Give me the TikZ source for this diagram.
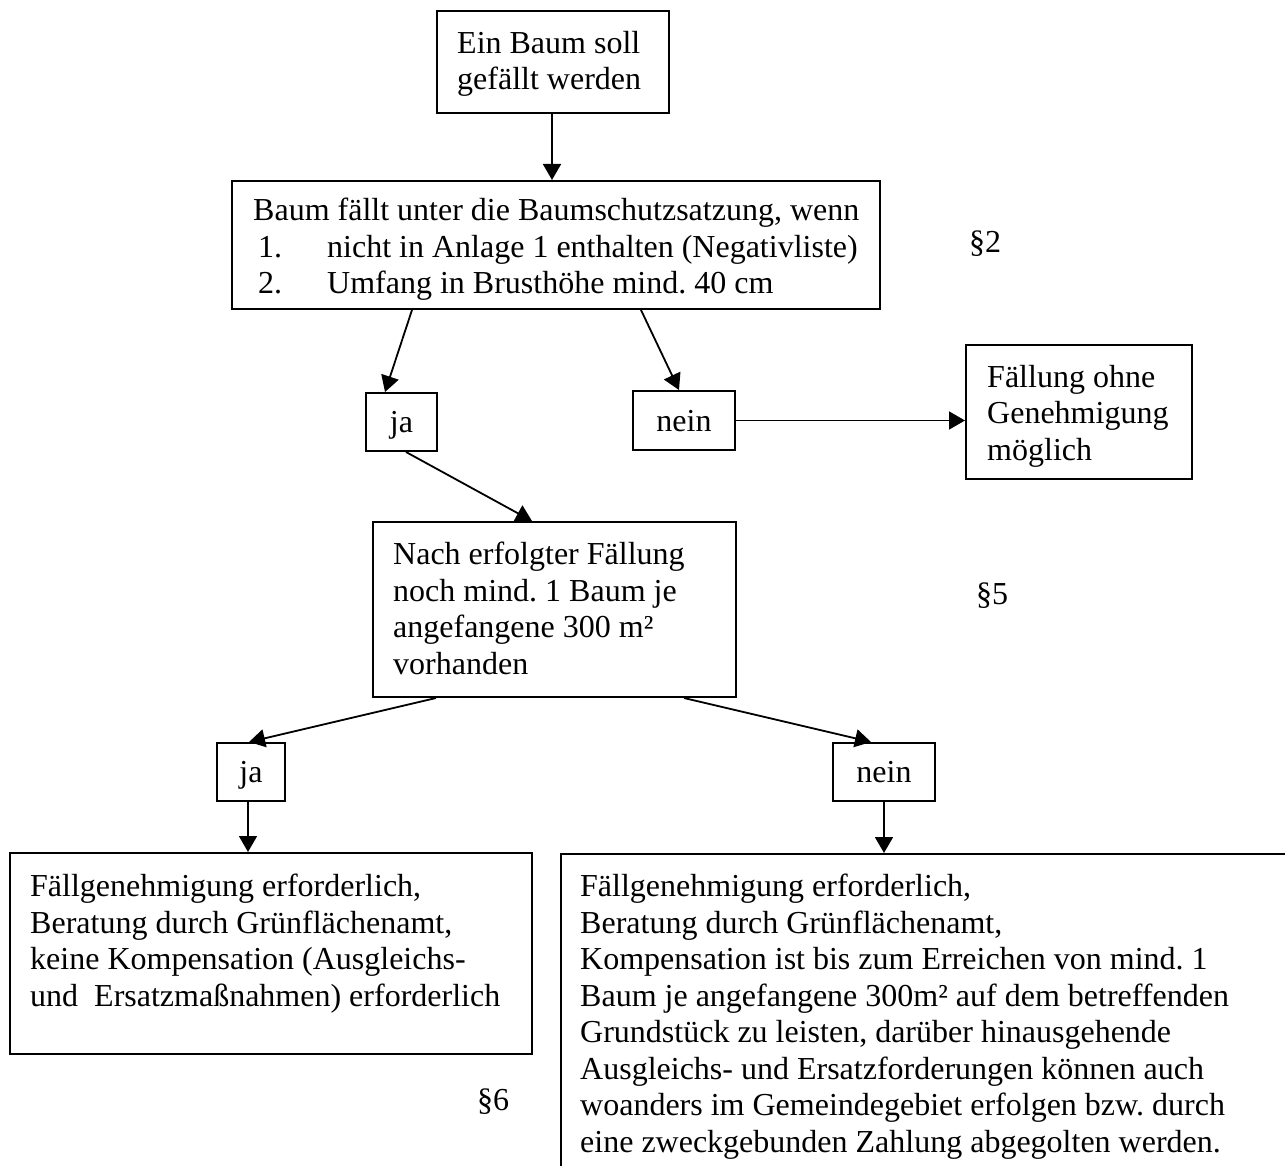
\documentclass[tikz,border=0pt]{standalone}
\usepackage{fontspec}
\setmainfont{Liberation Serif}
\usetikzlibrary{arrows.meta}
\frenchspacing
\tikzset{
  box/.style={draw, line width=2pt, inner sep=0pt, minimum width=#1},
  box/.default=10pt,
  txt/.style={font=\fontsize{32}{36.5}\selectfont, align=left, inner sep=0pt, anchor=north west},
  lbl/.style={font=\fontsize{32}{36.5}\selectfont, inner sep=0pt, text height=26pt, text depth=5pt},
  arr/.style={line width=1.8pt, -{Triangle[length=16pt,width=18pt]}}
}
\begin{document}
\begin{tikzpicture}[x=1pt,y=-1pt]
\useasboundingbox (0,0) rectangle (1285,1166);
\begin{scope}
\clip (0,0) rectangle (1285,1166);
% boxes
\node[box=232pt, minimum height=102pt] (b1) at (553,62) {};
\node[box=648pt, minimum height=128pt] (b2) at (556,245) {};
\node[box=71pt, minimum height=58pt] (ja1) at (401.5,422) {};
\node[box=102pt, minimum height=59pt] (nein1) at (684,420.5) {};
\node[box=226pt, minimum height=134pt] (f) at (1079,412) {};
\node[box=363pt, minimum height=175pt] (b3) at (554.5,609.5) {};
\node[box=68pt, minimum height=58pt] (ja2) at (251,772) {};
\node[box=102pt, minimum height=58pt] (nein2) at (884,772) {};
\node[box=522pt, minimum height=201pt] (lb) at (271,953.5) {};
\node[box=760pt, minimum height=360pt, anchor=north west] (rb) at (560,853) {};
% texts
\node[txt] (t1) at (457,31) {Ein Baum soll\\gefällt werden};
\node[txt] (t2) at (253,198) {Baum fällt unter die Baumschutzsatzung, wenn\\
\hspace*{5pt}\makebox[69pt][l]{1.}nicht in Anlage 1 enthalten (Negativliste)\\
\hspace*{5pt}\makebox[69pt][l]{2.}Umfang in Brusthöhe mind. 40 cm};
\node[lbl] (tja1) at (ja1.center) {ja};
\node[lbl] (tnein1) at (nein1.center) {nein};
\node[txt] (tf) at (987,365) {Fällung ohne\\Genehmigung\\möglich};
\node[txt] (t3) at (393,542) {Nach erfolgter Fällung\\noch mind. 1 Baum je\\angefangene 300 m²\\vorhanden};
\node[lbl] (tja2) at (ja2.center) {ja};
\node[lbl] (tnein2) at (nein2.center) {nein};
\node[txt] (tlb) at (30,874) {Fällgenehmigung erforderlich,\\Beratung durch Grünflächenamt,\\keine Kompensation (Ausgleichs-\\und\ \ Ersatzmaßnahmen) erforderlich};
\node[txt] (trb) at (580,874) {Fällgenehmigung erforderlich,\\Beratung durch Grünflächenamt,\\Kompensation ist bis zum Erreichen von mind. 1\\Baum je angefangene 300m² auf dem betreffenden\\Grundstück zu leisten, darüber hinausgehende\\Ausgleichs- und Ersatzforderungen können auch\\woanders im Gemeindegebiet erfolgen bzw. durch\\eine zweckgebunden Zahlung abgegolten werden.};
\node[lbl] (p2) at (985,242) {§2};
\node[lbl] (p5) at (992,594) {§5};
\node[lbl] (p6) at (493,1100) {§6};
% connectors
\draw[arr] ([xshift=-1pt]b1.south) -- ([xshift=-4pt]b2.north);
\draw[arr] ([xshift=181pt]b2.south west) -- ([xshift=20pt]ja1.north west);
\draw[arr] ([xshift=410pt]b2.south west) -- ([xshift=47pt]nein1.north west);
\draw[arr] (nein1.east) -- (nein1.east -| f.west);
\draw[arr] ([xshift=41pt]ja1.south west) -- ([xshift=160pt]b3.north west);
\draw[arr] ([xshift=64pt]b3.south west) -- ([xshift=33pt]ja2.north west);
\draw[arr] ([xshift=312pt]b3.south west) -- ([xshift=39pt]nein2.north west);
\draw[arr] ([xshift=-3pt]ja2.south) -- ([xshift=-3pt]ja2.south |- lb.north);
\draw[arr] (nein2.south) -- (nein2.south |- rb.north);
\end{scope}
\end{tikzpicture}
\end{document}
